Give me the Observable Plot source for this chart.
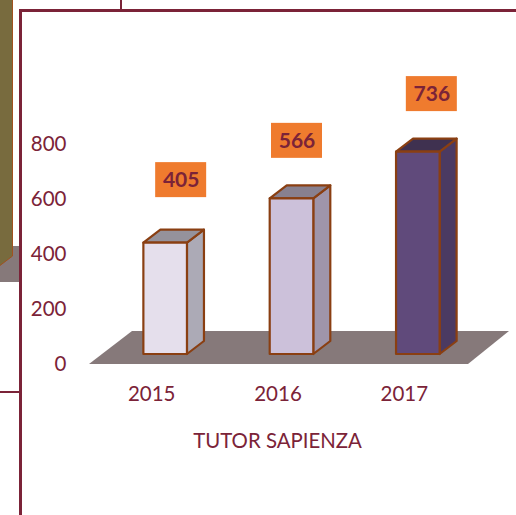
<!DOCTYPE html>
<html>
<head>
<meta charset="utf-8">
<script src="https://cdn.jsdelivr.net/npm/d3@7"></script>
<script src="https://cdn.jsdelivr.net/npm/@observablehq/plot@0.6"></script>
<style>
html,body{margin:0;padding:0;background:#fff;overflow:hidden}
#wrap{position:relative;width:516px;height:515px;overflow:hidden}
#wrap > svg:last-child{position:absolute;left:0;top:0}
.deco{position:absolute}
</style>
</head>
<body>
<div id="wrap">
  <div class="deco" style="left:0;top:246px;width:19px;height:36px;background:#86797a"></div>
  <svg class="deco" style="left:0;top:0" width="14" height="270"><polygon points="-2,-2 12.5,-2 12.5,256 -2,267" fill="#786b3e" stroke="#a0521e" stroke-width="1"/></svg>
  <div class="deco" style="left:20px;top:9px;width:496px;height:3px;background:#7b2338"></div>
  <div class="deco" style="left:19px;top:9px;width:3px;height:506px;background:#7b2338"></div>
  <div class="deco" style="left:120px;top:0;width:2px;height:10px;background:#7b2338"></div>
  <div class="deco" style="left:0;top:391px;width:20px;height:2px;background:#7b2338"></div>
</div>
<script>
const years = ["2015", "2016", "2017"];
const values = [405, 566, 736];
const yTicks = [0, 200, 400, 600, 800];
const xTitle = "TUTOR SAPIENZA";
const frontColors = ["#e5dfec", "#ccc1da", "#604a7b"];
const sideColors = ["#acaab6", "#9f95aa", "#4b3a62"];
const topColors = ["#95929b", "#88808f", "#3f3150"];
const labelOffsets = [[28.5, -73], [18, -68], [26.5, -68]];

const rows = years.map((year, i) => ({year, value: values[i], i}));
const ink = "#7b2338";
const edge = "#8a3f12";
const plinth = "#86797a";
const svgNS = "http://www.w3.org/2000/svg";

// depth of the pseudo-3D projection, in pixels
const depthX = 17, depthY = 13, liftX = 13, liftY = 10, floorDX = 41, floorDY = 33;

const bandOf = s => typeof s.x.bandwidth === "function" ? s.x.bandwidth() : s.scales.x.bandwidth;

function poly(g, pts, fill, stroke, sw) {
  const p = document.createElementNS(svgNS, "polygon");
  p.setAttribute("points", pts.map(d => d.join(",")).join(" "));
  p.setAttribute("fill", fill);
  if (stroke) {
    p.setAttribute("stroke", stroke);
    p.setAttribute("stroke-width", sw);
    p.setAttribute("stroke-linejoin", "round");
  }
  g.appendChild(p);
}

// floor slab, drawn from the extent of the band scale and the y baseline
const floor = Plot.barY([0], {
  x: () => years[0], y: () => 0,
  render(index, scales) {
    const g = document.createElementNS(svgNS, "g");
    const x0 = scales.x(years[0]);
    const x1 = scales.x(years[years.length - 1]) + bandOf(scales);
    const y0 = scales.y(0);
    poly(g, [[x0, y0], [x1, y0], [x1 + floorDX, y0 - floorDY], [x0 + floorDX + 2, y0 - floorDY]], plinth);
    return g;
  }
});

// cuboids: side and top faces are computed from the scaled bar of each row
const cuboids = Plot.barY(rows, {
  x: "year", y: "value",
  render(index, scales) {
    const g = document.createElementNS(svgNS, "g");
    for (const i of index) {
      const d = rows[i];
      const bw = bandOf(scales);
      const w = bw * 0.345;
      const left = scales.x(d.year) + (bw - w) / 2 + liftX;
      const right = left + w;
      const top = scales.y(d.value) - liftY;
      const bottom = scales.y(0) - liftY;
      poly(g, [[right, top], [right + depthX, top - depthY], [right + depthX, bottom - depthY], [right, bottom]], sideColors[d.i], edge, 2.2);
      poly(g, [[left, top], [left + depthX, top - depthY], [right + depthX, top - depthY], [right, top]], topColors[d.i], edge, 2.2);
      poly(g, [[left, top], [right, top], [right, bottom], [left, bottom]], frontColors[d.i], edge, 2.2);
    }
    return g;
  }
});

const labels = rows.map((d, k) => Plot.text([d], {
  x: "year", y: "value", text: v => String(v.value),
  dx: labelOffsets[k][0], dy: labelOffsets[k][1] + 0.5,
  fill: ink, fontWeight: 700, fontSize: 21, fontFamily: "Lato",
  render(index, scales, vals, dims, ctx, next) {
    const textG = next(index, scales, vals, dims, ctx);
    const g = document.createElementNS(svgNS, "g");
    const r = document.createElementNS(svgNS, "rect");
    const cx = scales.x(d.year) + bandOf(scales) / 2 + labelOffsets[k][0];
    const cy = scales.y(d.value) + labelOffsets[k][1];
    r.setAttribute("x", cx - 25.5);
    r.setAttribute("y", cy - 17.5);
    r.setAttribute("width", 51);
    r.setAttribute("height", 35);
    r.setAttribute("fill", "#ef7b2e");
    g.appendChild(r);
    g.appendChild(textG);
    return g;
  }
}));

const chart = Plot.plot({
  width: 516, height: 515,
  marginTop: 144, marginBottom: 151, marginLeft: 89, marginRight: 48,
  style: {background: "transparent", fontFamily: "Lato", overflow: "visible"},
  x: {type: "band", domain: years, padding: 0, round: false, label: null},
  y: {domain: [0, 800], label: null},
  marks: [
    floor,
    cuboids,
    Plot.axisY({ticks: yTicks, tickSize: 0, tickPadding: 23, fontSize: 20.5, dy: 0.4, color: ink, label: null, fontFamily: "Lato"}),
    Plot.axisX({tickSize: 0, tickPadding: 22, fontSize: 20.5, dx: -1, color: ink, label: null, fontFamily: "Lato"}),
    Plot.text([xTitle], {frameAnchor: "bottom", dx: -1.5, dy: 83, fontSize: 20.4, fill: ink, fontFamily: "Lato"}),
    ...labels
  ]
});
document.getElementById("wrap").appendChild(chart);
</script>
</body>
</html>
